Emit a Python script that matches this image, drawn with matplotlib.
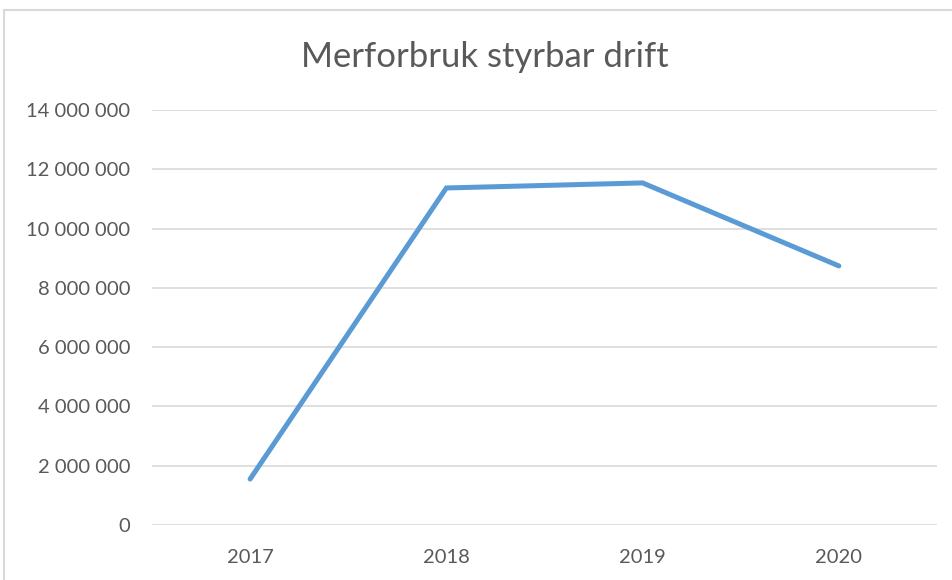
import matplotlib
matplotlib.use("Agg")
import matplotlib.pyplot as plt
from matplotlib.patches import Rectangle
from matplotlib.ticker import FuncFormatter

# data
years = ["2017", "2018", "2019", "2020"]
merforbruk = [1550000, 11370000, 11540000, 8740000]
y_ticks = [0, 2000000, 4000000, 6000000, 8000000, 10000000, 12000000, 14000000]

plt.rcParams['font.family'] = ['Lato', 'DejaVu Sans']
text_grey = "#595959"

fig = plt.figure(figsize=(9.52, 5.8), dpi=100)

# chart frame (Excel style border)
fig.patches.append(Rectangle((4 / 952, -0.1), 1.1, 1 - 10 / 580 + 0.1,
                             transform=fig.transFigure, fill=False,
                             edgecolor="#D9D9D9", linewidth=1.5))

ax = fig.add_axes([152 / 952, 1 - 525 / 580, 785 / 952, 415 / 580])
x = range(len(years))
ax.plot(x, merforbruk, color="#5B9BD5", linewidth=3.6,
        solid_capstyle="round", solid_joinstyle="miter")

ax.set_xlim(-0.5, len(years) - 0.5)
ax.set_ylim(0, 14000000)
ax.set_xticks(list(x))
ax.set_xticklabels(years)
ax.set_yticks(y_ticks)
ax.yaxis.set_major_formatter(FuncFormatter(lambda v, p: f"{int(v):,}".replace(",", " ")))

ax.grid(axis="y", color="#D9D9D9", linewidth=1.2)
ax.set_axisbelow(True)
for s in ax.spines.values():
    s.set_visible(False)
ax.tick_params(axis="both", length=0, labelsize=14.5, colors=text_grey)
ax.tick_params(axis="y", pad=15.5)
ax.tick_params(axis="x", pad=17)

fig.text(485 / 952, 1 - 57 / 580, "Merforbruk styrbar drift",
         ha="center", va="center", fontsize=24.9, color=text_grey)

fig.savefig("out.png", dpi=100)
